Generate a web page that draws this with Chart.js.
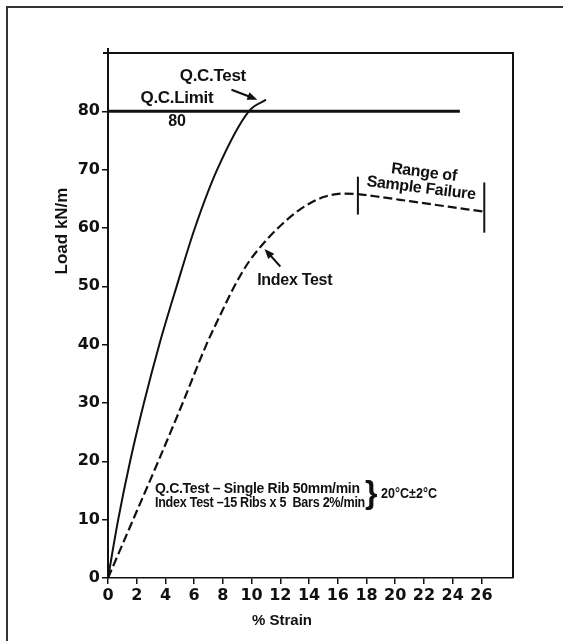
<!DOCTYPE html>
<html>
<head>
<meta charset="utf-8">
<script src="https://cdn.jsdelivr.net/npm/chart.js@4.4.0/dist/chart.umd.min.js"></script>
<style>
  html, body { margin: 0; padding: 0; background: #fff; }
  #wrap { width: 563px; height: 641px; }
</style>
</head>
<body>
<div id="wrap"><canvas id="chart" width="563" height="641"></canvas></div>
<script>
// axis ticks
const strainTicks = [0, 2, 4, 6, 8, 10, 12, 14, 16, 18, 20, 22, 24, 26];
const loadTicks = [0, 10, 20, 30, 40, 50, 60, 70, 80];

// Q.C. test, single rib (solid)
const qcStrain = [0, 0.71, 1.54, 2.5, 3.57, 4.78, 6.05, 7.6, 9.8, 11.0];
const qcLoad   = [0, 10, 20, 30, 40, 50, 60, 70, 80, 82];

// index test, 15 ribs x 5 bars (dashed)
const indexStrain = [0, 1.75, 3.5, 5.2, 6.85, 7.8, 8.8, 9.75, 10.7, 12.1, 13.5, 15.0, 16.4, 17.4, 19, 21, 23, 25, 26.2];
const indexLoad   = [0, 10, 20, 30, 40, 45, 50, 54, 57, 60.6, 63.4, 65.3, 65.9, 65.8, 65.3, 64.6, 63.9, 63.2, 62.8];

// Q.C. limit
const limitStrain = [0, 24.5];
const limitLoad   = [80, 80];

// range of sample failure, end markers
const failStartStrain = [17.4, 17.4];
const failStartLoad   = [62.3, 68.8];
const failEndStrain   = [26.2, 26.2];
const failEndLoad     = [59.2, 67.8];

const INK = '#111';
const SANS = '"Liberation Sans", Arial, sans-serif';

function pts(xs, ys) {
  return xs.map((x, i) => ({ x: x, y: ys[i] }));
}

function arrow(ctx, x1, y1, x2, y2) {
  const a = Math.atan2(y2 - y1, x2 - x1);
  ctx.beginPath();
  ctx.moveTo(x1, y1);
  ctx.lineTo(x2 - 6 * Math.cos(a), y2 - 6 * Math.sin(a));
  ctx.lineWidth = 2;
  ctx.stroke();
  ctx.beginPath();
  ctx.moveTo(x2, y2);
  ctx.lineTo(x2 - 10 * Math.cos(a) + 4 * Math.sin(a), y2 - 10 * Math.sin(a) - 4 * Math.cos(a));
  ctx.lineTo(x2 - 10 * Math.cos(a) - 4 * Math.sin(a), y2 - 10 * Math.sin(a) + 4 * Math.cos(a));
  ctx.closePath();
  ctx.fill();
}

const decorations = {
  id: 'decorations',
  afterDraw(chart) {
    const ctx = chart.ctx;
    const xs = chart.scales.x, ys = chart.scales.y;
    const area = chart.chartArea;
    const px = v => xs.getPixelForValue(v);
    const py = v => ys.getPixelForValue(v);

    ctx.save();
    ctx.strokeStyle = INK;
    ctx.fillStyle = INK;

    // outer page border
    ctx.lineWidth = 2;
    ctx.strokeStyle = '#333';
    ctx.beginPath();
    ctx.moveTo(7, 641);
    ctx.lineTo(7, 7);
    ctx.lineTo(563, 7);
    ctx.stroke();

    // plot frame: top and right
    ctx.strokeStyle = INK;
    ctx.beginPath();
    ctx.moveTo(area.left - 5, area.top);
    ctx.lineTo(area.right, area.top);
    ctx.lineTo(area.right, area.bottom);
    ctx.stroke();
    ctx.beginPath();
    ctx.moveTo(area.left, area.top - 5);
    ctx.lineTo(area.left, area.top);
    ctx.stroke();

    ctx.letterSpacing = '-0.3px';
    ctx.textAlign = 'center';
    ctx.textBaseline = 'middle';

    // labels
    ctx.font = 'bold 17px ' + SANS;
    ctx.fillText('Q.C.Test', px(7.3), py(86));
    ctx.fillText('Q.C.Limit', px(4.8), py(82.2));
    ctx.font = 'bold 16px ' + SANS;
    ctx.fillText('80', px(4.8), py(78.3));
    ctx.fillText('Index Test', px(13.0), py(50.9));

    arrow(ctx, px(8.6), py(83.7), px(10.4), py(82.0));
    arrow(ctx, px(12.0), py(53.4), px(10.9), py(56.4));

    // range of sample failure, slightly tilted
    ctx.font = 'bold 16px ' + SANS;
    ctx.save();
    ctx.translate(px(22.0), py(69.5));
    ctx.rotate(7 * Math.PI / 180);
    ctx.fillText('Range of', 0, 0);
    ctx.restore();
    ctx.save();
    ctx.translate(px(21.8), py(66.8));
    ctx.rotate(7 * Math.PI / 180);
    ctx.fillText('Sample Failure', 0, 0);
    ctx.restore();

    // test conditions
    ctx.textAlign = 'left';
    ctx.font = 'bold 14px ' + SANS;
    ctx.fillText('Q.C.Test \u2013 Single Rib 50mm/min', 155, 489, 206);
    ctx.fillText('Index Test \u201315 Ribs x 5  Bars 2%/min', 155, 503, 210);
    ctx.letterSpacing = '0px';
    ctx.font = 'bold 32px ' + SANS;
    ctx.fillText('}', 365, 494);
    ctx.font = 'bold 14px ' + SANS;
    ctx.fillText('20\u00B0C\u00B12\u00B0C', 381, 494, 56);

    // axis titles
    ctx.textAlign = 'center';
    ctx.font = 'bold 15px ' + SANS;
    ctx.fillText('% Strain', 282, 621);
    ctx.save();
    ctx.translate(62, 231);
    ctx.rotate(-Math.PI / 2);
    ctx.font = 'bold 17px ' + SANS;
    ctx.fillText('Load kN/m', 0, 0);
    ctx.restore();

    ctx.restore();
  }
};

const tickFont = { family: '"DejaVu Sans", sans-serif', weight: 'bold', size: 16 };

new Chart(document.getElementById('chart'), {
  type: 'scatter',
  data: {
    datasets: [
      {
        label: 'Q.C. Test',
        data: pts(qcStrain, qcLoad),
        showLine: true,
        borderColor: INK,
        borderWidth: 2,
        pointRadius: 0,
        cubicInterpolationMode: 'monotone'
      },
      {
        label: 'Index Test',
        data: pts(indexStrain, indexLoad),
        showLine: true,
        borderColor: INK,
        borderWidth: 2.2,
        borderDash: [9, 4],
        pointRadius: 0,
        cubicInterpolationMode: 'monotone'
      },
      {
        label: 'Q.C. Limit',
        data: pts(limitStrain, limitLoad),
        showLine: true,
        borderColor: INK,
        borderWidth: 3,
        pointRadius: 0
      },
      {
        label: 'Failure start',
        data: pts(failStartStrain, failStartLoad),
        showLine: true,
        borderColor: INK,
        borderWidth: 2,
        pointRadius: 0
      },
      {
        label: 'Failure end',
        data: pts(failEndStrain, failEndLoad),
        showLine: true,
        borderColor: INK,
        borderWidth: 2,
        pointRadius: 0
      }
    ]
  },
  options: {
    responsive: false,
    animation: false,
    layout: { padding: { top: 53, right: 50, left: 0, bottom: 0 } },
    plugins: { legend: { display: false }, tooltip: { enabled: false } },
    scales: {
      x: {
        type: 'linear',
        min: 0,
        max: 28.2,
        afterBuildTicks: s => { s.ticks = strainTicks.map(v => ({ value: v })); },
        afterFit: s => { s.height = 63; },
        ticks: { color: INK, font: tickFont, padding: 2, maxRotation: 0, autoSkip: false },
        grid: { drawOnChartArea: false, tickLength: 6, color: INK, lineWidth: 1.5 },
        border: { display: true, color: INK, width: 1.5 }
      },
      y: {
        type: 'linear',
        min: 0,
        max: 90,
        afterBuildTicks: s => { s.ticks = loadTicks.map(v => ({ value: v })); },
        afterFit: s => { s.width = 108; },
        ticks: { color: INK, font: tickFont, padding: 2, autoSkip: false },
        grid: { drawOnChartArea: false, tickLength: 6, color: INK, lineWidth: 1.5 },
        border: { display: true, color: INK, width: 2 }
      }
    }
  },
  plugins: [decorations]
});
</script>
</body>
</html>
